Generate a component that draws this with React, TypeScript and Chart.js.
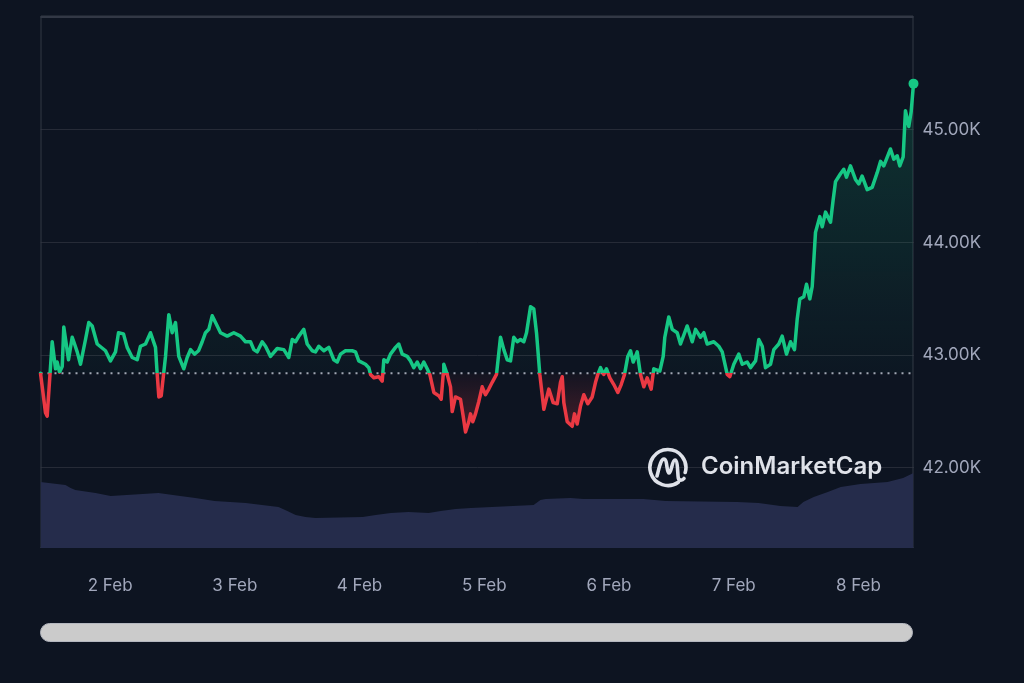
import React, { useEffect, useRef } from "react";
import { Chart, registerables } from "chart.js";

Chart.register(...registerables);

// Hours since the start of the 7-day window (1 Feb ~10:40)
const hours = [0,0.96,1.29,2.25,2.89,3.21,3.66,4.18,4.48,5.39,6.10,6.41,7.06,7.70,8.66,9.29,9.95,10.91,12.51,13.47,14.43,15.01,15.97,16.68,17.65,18.61,19.24,20.21,21.17,22.13,22.46,22.77,23.23,23.73,24.06,24.69,25.34,25.98,26.61,27.58,28.23,28.87,29.64,30.41,31.12,31.75,32.39,33.04,33.68,34.64,35.93,37.20,38.49,39.45,40.41,41.05,41.70,42.66,43.30,44.26,45.55,46.82,47.78,48.44,49.07,49.71,50.67,51.32,52.29,52.92,53.56,54.52,55.48,56.44,57.10,57.73,58.69,59.98,60.62,61.25,62.54,63.18,63.51,64.14,65.10,65.76,66.07,66.72,67.35,68.32,68.95,69.61,70.57,71.20,71.84,72.49,73.13,73.76,74.42,74.92,75.69,76.65,77.11,77.50,77.61,78.27,78.90,79.23,79.86,80.82,81.34,81.79,82.42,82.75,83.19,83.71,84.35,85.00,85.64,86.27,86.93,87.75,88.52,89.16,89.81,90.45,91.08,91.74,92.37,93.01,93.53,94.30,94.93,95.45,96.09,96.86,97.82,98.66,99.44,100.07,100.40,100.71,101.36,102.32,102.76,103.28,103.92,104.55,105.32,106.17,106.81,107.25,107.77,108.40,108.92,109.56,110.33,111.10,111.75,112.39,113.02,113.54,114.06,114.83,115.46,116.10,116.75,117.52,118.02,119.18,119.83,120.14,120.91,121.57,122.53,123.16,124.45,125.42,126.05,127.01,127.65,128.30,129.57,130.53,131.19,132.15,132.65,133.42,134.38,135.04,136.00,136.64,137.60,138.23,138.89,139.52,140.48,141.12,142.08,142.73,143.56,144.33,145.10,145.62,146.12,146.89,147.41,148.05,148.51,149.14,149.97,150.43,151.07,152.03,152.54,152.99,153.95,154.58,155.10,155.87,156.83,157.47,158.12,159.09,160.05,161.01,161.65,162.28,163.57,164.21,164.86,165.36,166.01,166.45,167.09,167.55,168];

// BTC price in thousands of USD
const prices = [42.84,42.49,42.46,43.12,42.88,42.94,42.85,42.90,43.25,42.96,43.16,43.12,43.03,42.92,43.14,43.29,43.26,43.10,43.04,42.95,43.03,43.20,43.19,43.07,42.98,42.96,43.08,43.10,43.20,43.07,42.83,42.63,42.64,42.85,42.99,43.36,43.20,43.29,42.99,42.88,42.98,43.05,43.01,43.04,43.12,43.20,43.23,43.35,43.29,43.20,43.17,43.20,43.17,43.12,43.12,43.05,43.03,43.12,43.08,42.99,43.06,43.05,42.98,43.14,43.12,43.17,43.23,43.10,43.04,43.03,43.08,43.04,43.07,42.96,42.94,43.01,43.04,43.04,43.03,42.95,42.92,42.89,42.83,42.80,42.81,42.77,42.96,42.94,43.01,43.07,43.10,43.01,42.99,42.95,42.89,42.94,42.88,42.94,42.88,42.83,42.67,42.64,42.61,42.83,42.92,42.83,42.72,42.50,42.63,42.61,42.46,42.32,42.41,42.48,42.41,42.48,42.59,42.72,42.65,42.70,42.76,42.83,43.16,43.05,42.96,42.95,43.16,43.12,43.14,43.12,43.20,43.43,43.41,43.20,42.83,42.52,42.70,42.58,42.57,42.76,42.81,42.58,42.41,42.37,42.48,42.39,42.55,42.65,42.57,42.63,42.76,42.83,42.89,42.83,42.88,42.80,42.74,42.67,42.74,42.83,42.99,43.04,42.94,43.03,42.83,42.72,42.80,42.70,42.88,42.86,42.99,43.16,43.34,43.23,43.20,43.10,43.26,43.12,43.23,43.16,43.20,43.10,43.12,43.08,43.03,42.83,42.81,42.92,43.01,42.92,42.94,42.89,42.95,43.14,43.08,42.89,42.92,43.05,43.10,43.17,43.01,43.12,43.05,43.32,43.50,43.52,43.63,43.50,43.61,44.09,44.23,44.14,44.27,44.18,44.38,44.54,44.61,44.65,44.58,44.68,44.56,44.52,44.59,44.47,44.49,44.62,44.72,44.68,44.83,44.74,44.77,44.68,44.76,45.17,45.03,45.16,45.41];

// 24h volume (billions USD)
const volHours = [0,4.8,5.8,6.7,10.6,13.5,22.7,26.9,29.8,33.5,39.5,45.8,47.5,49.1,51.0,52.9,62.0,64.5,67.4,70.8,74.7,77.0,79.9,82.8,94.9,96.2,97.2,102.0,104.5,116.0,120.3,134.1,138.2,142.4,145.7,146.8,148.8,151.5,154.0,157.8,163.0,166.0,168];
const volumes = [29.8,28.4,27.1,26.2,24.8,23.5,24.8,23.5,22.6,21.2,20.3,18.5,16.7,14.9,14.0,13.5,14.0,14.9,15.8,16.2,15.8,16.7,17.6,18.0,19.4,21.7,22.1,22.6,22.1,22.1,21.2,20.8,20.3,18.9,18.5,20.8,23.0,25.3,27.5,28.9,29.8,31.6,33.8];

const baseline = 42.84;
const priceTicks = [42, 43, 44, 45];
const dayTickHours = [13.4, 37.4, 61.4, 85.4, 109.4, 133.4, 157.4];
const dayLabels = ["2 Feb", "3 Feb", "4 Feb", "5 Feb", "6 Feb", "7 Feb", "8 Feb"];

const GREEN = "#16c784";
const RED = "#ea3943";
const BG = "#0d1421";
const LABEL = "#a1a7bb";
const GRID = "#262b37";
const FRAME = "#323845";

export default function App() {
  const ref = useRef<HTMLCanvasElement | null>(null);

  useEffect(() => {
    if (!ref.current) return;
    const n = Math.min(hours.length, prices.length);
    const priceData = hours.slice(0, n).map((h, i) => ({ x: h, y: prices[i] }));
    const m = Math.min(volHours.length, volumes.length);
    const volData = volHours.slice(0, m).map((h, i) => ({ x: h, y: volumes[i] }));
    const baseData = [
      { x: 0, y: baseline },
      { x: 168, y: baseline },
    ];

    const basePix = (chart: any) => chart.scales.y.getPixelForValue(baseline);

    const lineColor = (ctx: any) => {
      const chart = ctx.chart;
      const a = chart.chartArea;
      if (!a || !chart.scales || !chart.scales.y) return GREEN;
      const by = basePix(chart);
      const g = chart.ctx.createLinearGradient(0, a.top, 0, a.bottom);
      const f = Math.min(1, Math.max(0, (by - a.top) / (a.bottom - a.top)));
      g.addColorStop(0, GREEN);
      g.addColorStop(f, GREEN);
      g.addColorStop(f, RED);
      g.addColorStop(1, RED);
      return g;
    };
    const aboveFill = (ctx: any) => {
      const chart = ctx.chart;
      const a = chart.chartArea;
      if (!a || !chart.scales || !chart.scales.y) return "rgba(22,199,132,0.1)";
      const by = basePix(chart);
      const g = chart.ctx.createLinearGradient(0, a.top, 0, by);
      g.addColorStop(0, "rgba(22,199,132,0.22)");
      g.addColorStop(1, "rgba(22,199,132,0.02)");
      return g;
    };
    const belowFill = (ctx: any) => {
      const chart = ctx.chart;
      const a = chart.chartArea;
      if (!a || !chart.scales || !chart.scales.y) return "rgba(234,57,67,0.1)";
      const by = basePix(chart);
      const low = chart.scales.y.getPixelForValue(42.3);
      const g = chart.ctx.createLinearGradient(0, by, 0, low);
      g.addColorStop(0, "rgba(234,57,67,0.03)");
      g.addColorStop(1, "rgba(234,57,67,0.28)");
      return g;
    };

    const framePlugin = {
      id: "frame",
      beforeDatasetsDraw(chart: any) {
        const { ctx, chartArea: a } = chart;
        ctx.save();
        ctx.strokeStyle = FRAME;
        ctx.lineWidth = 1;
        ctx.beginPath();
        ctx.moveTo(a.left + 0.5, a.bottom);
        ctx.lineTo(a.left + 0.5, a.top);
        ctx.lineTo(a.right - 0.5, a.top);
        ctx.lineTo(a.right - 0.5, a.bottom);
        ctx.moveTo(a.left, a.bottom - 0.5);
        ctx.lineTo(a.right, a.bottom - 0.5);
        ctx.stroke();
        ctx.lineWidth = 2;
        ctx.beginPath();
        ctx.moveTo(a.left, a.top + 1);
        ctx.lineTo(a.right, a.top + 1);
        ctx.stroke();
        ctx.restore();
      },
    };

    const chart = new Chart(ref.current, {
      type: "line",
      data: {
        datasets: [
          {
            label: "Price",
            data: priceData,
            yAxisID: "y",
            borderColor: lineColor,
            borderWidth: 3.5,
            tension: 0,
            borderJoinStyle: "round",
            borderCapStyle: "round",
            clip: false,
            fill: { target: { value: baseline }, above: aboveFill, below: belowFill },
            pointRadius: (ctx: any) => (ctx.dataIndex === n - 1 ? 5 : 0),
            pointBackgroundColor: GREEN,
            pointBorderColor: GREEN,
            pointBorderWidth: 0,
            order: 0,
          } as any,
          {
            label: "Baseline",
            data: baseData,
            yAxisID: "y",
            borderColor: "rgba(200,205,218,0.8)",
            borderWidth: 2,
            borderDash: [2, 5],
            pointRadius: 0,
            fill: false,
            order: 1,
          },
          {
            label: "Volume",
            data: volData,
            yAxisID: "v",
            borderWidth: 0,
            borderColor: "rgba(0,0,0,0)",
            backgroundColor: "#252c4b",
            pointRadius: 0,
            tension: 0,
            fill: "origin",
            order: 2,
          },
        ],
      },
      options: {
        responsive: false,
        devicePixelRatio: 1,
        animation: false,
        layout: { padding: { left: 40.5, top: 16, right: 0, bottom: 0 } },
        plugins: { legend: { display: false }, tooltip: { enabled: false } },
        scales: {
          x: {
            type: "linear",
            min: 0,
            max: 168,
            grid: { display: false, drawTicks: false },
            border: { display: false },
            afterBuildTicks: (scale: any) => {
              scale.ticks = dayTickHours.map((v) => ({ value: v }));
            },
            afterFit: (scale: any) => {
              scale.height = 135;
              scale.paddingLeft = 0;
              scale.paddingRight = 0;
            },
            ticks: {
              autoSkip: false,
              maxRotation: 0,
              padding: 28,
              color: LABEL,
              font: { family: "Inter", size: 17 },
              callback: (v: any) => {
                const i = dayTickHours.indexOf(Number(v));
                return i >= 0 ? dayLabels[i] : "";
              },
            },
          },
          y: {
            type: "linear",
            position: "right",
            min: 41.29,
            max: 46.01,
            grid: { color: GRID, lineWidth: 1, drawTicks: false },
            border: { display: false },
            afterBuildTicks: (scale: any) => {
              scale.ticks = priceTicks.map((v) => ({ value: v }));
            },
            afterFit: (scale: any) => {
              scale.width = 110.5;
              scale.paddingTop = 0;
              scale.paddingBottom = 0;
            },
            ticks: {
              padding: 9,
              color: LABEL,
              font: { family: "Inter", size: 17 },
              callback: (v: any) => Number(v).toFixed(2) + "K",
            },
          },
          v: {
            type: "linear",
            display: false,
            min: 0,
            max: 240,
          },
        },
      },
      plugins: [framePlugin],
    });

    return () => chart.destroy();
  }, []);

  return (
    <div
      style={{
        position: "fixed",
        left: 0,
        top: 0,
        width: 1024,
        height: 683,
        background: BG,
        overflow: "hidden",
      }}
    >
      <canvas ref={ref} width={1024} height={683} style={{ display: "block", position: "absolute", left: 0, top: 0 }} />
      <svg
        width={44}
        height={44}
        viewBox="0 0 44 44"
        style={{ position: "absolute", left: 646, top: 445 }}
      >
        <path
          d="M32.3 37.2 A18 18 0 1 1 39.2 27.5"
          fill="none"
          stroke="#dfe2e9"
          strokeWidth={3.6}
          strokeLinecap="round"
        />
        <path
          d="M11 31 C13 24 14.5 14 18 14 C21.5 14 20.5 28 23 28 C25.5 28 26 15 29 15 C32 15 31.5 30 32.3 33 C33 36 36.5 35.5 38 33.5"
          fill="none"
          stroke="#dfe2e9"
          strokeWidth={3.6}
          strokeLinecap="round"
          strokeLinejoin="round"
        />
      </svg>
      <div
        style={{
          position: "absolute",
          left: 701,
          top: 454,
          fontFamily: "Inter, 'Open Sans', sans-serif",
          fontWeight: 600,
          fontSize: 24,
          lineHeight: "24px",
          color: "#dfe2e9",
          whiteSpace: "nowrap",
        }}
      >
        CoinMarketCap
      </div>
      <div
        style={{
          position: "absolute",
          left: 40,
          top: 623,
          width: 873,
          height: 19,
          borderRadius: 10,
          background: "#cbcbcb",
          boxSizing: "border-box",
          border: "1px solid #b4b7bf",
        }}
      />
    </div>
  );
}
